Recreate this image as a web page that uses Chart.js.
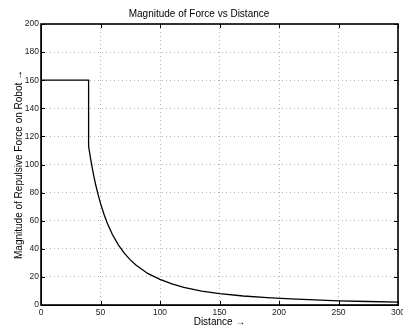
<!DOCTYPE html>
<html>
<head>
<meta charset="utf-8">
<script src="https://cdn.jsdelivr.net/npm/chart.js@4/dist/chart.umd.min.js"></script>
<style>
  html, body { margin: 0; padding: 0; background: #fff; }
  #wrap { width: 403px; height: 328px; }
</style>
</head>
<body>
<div id="wrap"><canvas id="forceChart" width="403" height="328"></canvas></div>
<script>
// force vs distance
const distance = [0, 40, 40, 42, 44, 46, 48, 50, 53, 56, 60, 65, 70, 75, 80, 90, 100, 110, 120, 135, 150, 170, 190, 210, 230, 250, 275, 300];
const force    = [160, 160, 113, 102.5, 93.4, 85.4, 78.5, 72.3, 64.4, 57.7, 50.2, 42.8, 36.9, 32.1, 28.3, 22.3, 18.2, 15.0, 12.6, 9.9, 8.1, 6.4, 5.2, 4.3, 3.6, 3.0, 2.5, 2.1];

const xTicks = [0, 50, 100, 150, 200, 250, 300];
const yTicks = [0, 20, 40, 60, 80, 100, 120, 140, 160, 180, 200];

const fontFam = '"Liberation Sans", Arial, Helvetica, sans-serif';

// matlab style box with ticks pointing inside
const boxPlugin = {
  id: 'boxPlugin',
  afterDraw(chart) {
    const ctx = chart.ctx;
    const a = chart.chartArea;
    const xs = chart.scales.x, ys = chart.scales.y;
    ctx.save();
    ctx.strokeStyle = '#000';
    ctx.lineWidth = 1;
    ctx.beginPath();
    xTicks.forEach(v => {
      const px = Math.round(xs.getPixelForValue(v)) + 0.5;
      ctx.moveTo(px, a.bottom); ctx.lineTo(px, a.bottom - 4);
      ctx.moveTo(px, a.top); ctx.lineTo(px, a.top + 4);
    });
    yTicks.forEach(v => {
      const py = Math.round(ys.getPixelForValue(v)) + 0.5;
      ctx.moveTo(a.left, py); ctx.lineTo(a.left + 4, py);
      ctx.moveTo(a.right, py); ctx.lineTo(a.right - 4, py);
    });
    ctx.stroke();
    ctx.lineWidth = 1.6;
    ctx.strokeRect(a.left, a.top, a.right - a.left, a.bottom - a.top);
    ctx.restore();
  }
};

const ctx = document.getElementById('forceChart').getContext('2d');
new Chart(ctx, {
  type: 'scatter',
  data: {
    datasets: [{
      label: 'Force',
      data: distance.map((d, i) => ({ x: d, y: force[i] })),
      showLine: true,
      borderColor: '#000',
      borderWidth: 1.3,
      pointRadius: 0,
      tension: 0,
      fill: false
    }]
  },
  options: {
    responsive: false,
    animation: false,
    events: [],
    layout: { padding: { left: 0, right: 5, top: 0, bottom: 0 } },
    plugins: {
      legend: { display: false },
      tooltip: { enabled: false },
      title: {
        display: true,
        text: 'Magnitude of Force vs Distance',
        color: '#000',
        font: { family: fontFam, size: 10, weight: 'normal', lineHeight: 1.2 },
        padding: { top: 8, bottom: 4 }
      }
    },
    scales: {
      x: {
        type: 'linear',
        min: 0,
        max: 300,
        afterBuildTicks: s => { s.ticks = xTicks.map(v => ({ value: v })); },
        afterFit: s => { s.height = 23; s.paddingLeft = 0; s.paddingRight = 0; },
        ticks: { color: '#222', padding: 3, font: { family: fontFam, size: 8.5 }, maxRotation: 0 },
        grid: { color: '#b4b4b4', lineWidth: 1, drawTicks: false, tickLength: 0 },
        border: { display: true, color: '#000', width: 1, dash: [1, 3] },
        title: {
          display: true,
          text: 'Distance \u2192',
          color: '#000',
          font: { family: fontFam, size: 10, lineHeight: 1.2 },
          padding: { top: 0, bottom: 0 }
        }
      },
      y: {
        type: 'linear',
        min: 0,
        max: 200,
        afterBuildTicks: s => { s.ticks = yTicks.map(v => ({ value: v })); },
        afterFit: s => { s.width = 41; s.paddingTop = 0; s.paddingBottom = 0; },
        ticks: { color: '#222', padding: 2, font: { family: fontFam, size: 8.5 } },
        grid: { color: '#b4b4b4', lineWidth: 1, drawTicks: false, tickLength: 0 },
        border: { display: true, color: '#000', width: 1, dash: [1, 3] },
        title: {
          display: true,
          text: 'Magnitude of Repulsive Force on Robot \u2192',
          color: '#000',
          font: { family: fontFam, size: 10, lineHeight: 1.2 },
          padding: { top: 13, bottom: 0 }
        }
      }
    }
  },
  plugins: [boxPlugin]
});
</script>
</body>
</html>
